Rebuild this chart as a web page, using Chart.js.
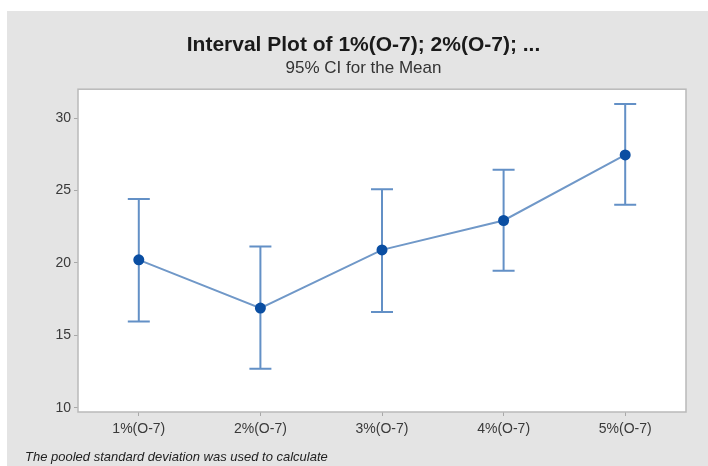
<!DOCTYPE html>
<html>
<head>
<meta charset="utf-8">
<script src="https://cdn.jsdelivr.net/npm/chart.js@4.4.1/dist/chart.umd.min.js"></script>
<style>
  html, body { margin: 0; padding: 0; background: #ffffff; }
  canvas { display: block; }
</style>
</head>
<body>
<canvas id="chart" width="708" height="466"></canvas>
<script>
// Interval plot: group means with 95% confidence intervals
const categories = ['1%(O-7)', '2%(O-7)', '3%(O-7)', '4%(O-7)', '5%(O-7)'];
const means      = [20.21, 16.88, 20.90, 22.93, 27.46];
const ciLower    = [15.96, 12.69, 16.60, 19.46, 24.01];
const ciUpper    = [24.42, 21.13, 25.09, 26.43, 30.98];
const yTicks     = [10, 15, 20, 25, 30];

const titleText    = 'Interval Plot of 1%(O-7); 2%(O-7); ...';
const subtitleText = '95% CI for the Mean';
const footnoteText = 'The pooled standard deviation was used to calculate';

const PANEL_GRAY = '#e4e4e4';
const FRAME_GRAY = '#b9b9b9';
const LINE_BLUE  = '#7098c8';
const BAR_BLUE   = '#6390c6';
const DOT_BLUE   = '#0a4ea2';
const FONT       = '"Liberation Sans", Arial, sans-serif';

// Page panel, white plot area and its frame, footnote
const framePlugin = {
  id: 'frame',
  beforeDraw(chart) {
    const { ctx, chartArea: a } = chart;
    ctx.save();
    ctx.fillStyle = '#ffffff';
    ctx.fillRect(0, 0, chart.width, chart.height);
    ctx.fillStyle = PANEL_GRAY;
    ctx.fillRect(7, 11, chart.width - 7, chart.height - 11);
    ctx.fillStyle = '#ffffff';
    ctx.fillRect(a.left, a.top, a.right - a.left, a.bottom - a.top);
    ctx.restore();
  },
  afterDraw(chart) {
    const { ctx, chartArea: a } = chart;
    ctx.save();
    ctx.strokeStyle = FRAME_GRAY;
    ctx.lineWidth = 1.5;
    ctx.strokeRect(a.left, a.top, a.right - a.left, a.bottom - a.top);
    ctx.fillStyle = '#222222';
    ctx.font = 'italic 13px ' + FONT;
    ctx.textAlign = 'left';
    ctx.textBaseline = 'middle';
    ctx.fillText(footnoteText, 25, 457);
    ctx.restore();
  }
};

// Whiskers with caps for each confidence interval
const intervalPlugin = {
  id: 'intervals',
  beforeDatasetsDraw(chart) {
    const { ctx } = chart;
    const xs = chart.scales.x, ys = chart.scales.y;
    const cap = 11;
    ctx.save();
    ctx.strokeStyle = BAR_BLUE;
    ctx.lineWidth = 2;
    categories.forEach((c, i) => {
      const x = xs.getPixelForValue(i);
      const yLo = ys.getPixelForValue(ciLower[i]);
      const yHi = ys.getPixelForValue(ciUpper[i]);
      ctx.beginPath();
      ctx.moveTo(x, yLo); ctx.lineTo(x, yHi);
      ctx.moveTo(x - cap, yHi); ctx.lineTo(x + cap, yHi);
      ctx.moveTo(x - cap, yLo); ctx.lineTo(x + cap, yLo);
      ctx.stroke();
    });
    ctx.restore();
  }
};

new Chart(document.getElementById('chart'), {
  type: 'line',
  data: {
    labels: categories,
    datasets: [{
      data: means,
      borderColor: LINE_BLUE,
      borderWidth: 2,
      tension: 0,
      pointRadius: 5.5,
      pointBackgroundColor: DOT_BLUE,
      pointBorderColor: DOT_BLUE,
      pointBorderWidth: 0
    }]
  },
  options: {
    responsive: false,
    devicePixelRatio: 1,
    animation: false,
    layout: { padding: { top: 14, left: 41, right: 22, bottom: 0 } },
    plugins: {
      legend: { display: false },
      tooltip: { enabled: false },
      title: {
        display: true,
        text: titleText,
        color: '#1a1a1a',
        font: { family: FONT, size: 21, weight: 'bold' },
        padding: { top: 19, bottom: 0 }
      },
      subtitle: {
        display: true,
        text: subtitleText,
        color: '#333333',
        font: { family: FONT, size: 17, weight: 'normal' },
        padding: { top: 0.4, bottom: 10.2 }
      }
    },
    scales: {
      x: {
        type: 'category',
        offset: true,
        border: { display: false },
        grid: { display: true, drawOnChartArea: false, drawTicks: true, tickLength: 4, color: '#a8a8a8', offset: false },
        ticks: { color: '#3a3a3a', font: { family: FONT, size: 14 }, padding: 5, maxRotation: 0 },
        afterFit(s) { s.height = 54; }
      },
      y: {
        min: 9.7,
        max: 32,
        border: { display: false },
        grid: { display: true, drawOnChartArea: false, drawTicks: true, tickLength: 4, color: '#a8a8a8' },
        ticks: { color: '#3a3a3a', font: { family: FONT, size: 14 }, padding: 3 },
        afterBuildTicks(s) { s.ticks = yTicks.map(v => ({ value: v })); },
        afterFit(s) { s.width = 37; }
      }
    }
  },
  plugins: [framePlugin, intervalPlugin]
});
</script>
</body>
</html>
